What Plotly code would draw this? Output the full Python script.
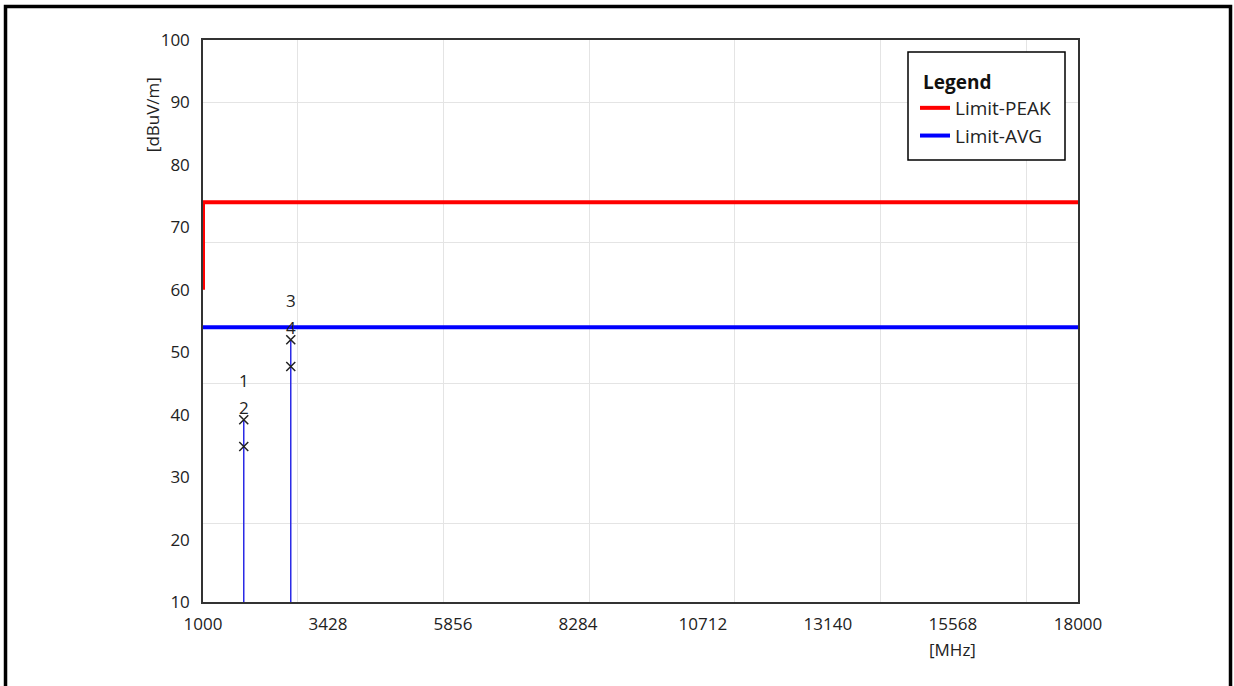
import plotly.graph_objects as go

# ---- data ----
x_range = [1000, 18000]
y_range = [10, 100]
x_tick_vals = [1000, 3428, 5856, 8284, 10712, 13140, 15568, 18000]
y_tick_vals = [10, 20, 30, 40, 50, 60, 70, 80, 90, 100]
x_grid_vals = [2833.33, 5666.67, 8500, 11333.33, 14166.67, 17000]
y_grid_vals = [22.5, 45, 67.5, 90]

limit_peak_x = [1000, 1000, 18000]
limit_peak_y = [60, 74, 74]
limit_avg_x = [1000, 18000]
limit_avg_y = [54, 54]

marker_freq = [1792, 2705]
marker_peak = [39.2, 52.0]
marker_avg = [34.9, 47.7]
peak_labels = ["1", "3"]
avg_labels = ["2", "4"]

FONT = "Open Sans"
FS = 17
LFS = 19

fig = go.Figure()

fig.add_trace(go.Scatter(x=limit_peak_x, y=limit_peak_y, mode="lines",
                         name="Limit-PEAK", line=dict(color="#ff0000", width=4)))
fig.add_trace(go.Scatter(x=limit_avg_x, y=limit_avg_y, mode="lines",
                         name="Limit-AVG", line=dict(color="#0000ff", width=4)))

# stems
stem_x, stem_y = [], []
for f, p in zip(marker_freq, marker_peak):
    stem_x += [f, f, None]
    stem_y += [y_range[0], p, None]
fig.add_trace(go.Scatter(x=stem_x, y=stem_y, mode="lines", showlegend=False,
                         line=dict(color="#2a2ae6", width=1.5), hoverinfo="skip"))

fig.add_trace(go.Scatter(x=marker_freq + marker_freq, y=marker_peak + marker_avg,
                         mode="markers", showlegend=False,
                         marker=dict(symbol="x-thin-open", size=9, color="#222",
                                     line=dict(color="#222", width=1.5))))

# dummy trace for grid overlay axes
fig.add_trace(go.Scatter(x=[x_range[0]], y=[y_range[0]], xaxis="x2", yaxis="y2",
                         mode="markers", marker=dict(opacity=0), showlegend=False,
                         hoverinfo="skip"))

for f, p, a, lp, la in zip(marker_freq, marker_peak, marker_avg, peak_labels, avg_labels):
    fig.add_annotation(x=f, y=p, text=lp, showarrow=False, yshift=39,
                       font=dict(family=FONT, size=FS, color="#222"))
    fig.add_annotation(x=f, y=a, text=la, showarrow=False, yshift=39,
                       font=dict(family=FONT, size=FS, color="#222"))

fig.add_annotation(xref="paper", yref="paper", x=-0.0583, y=0.868, text="[dBuV/m]",
                   textangle=-90, showarrow=False, xanchor="center", yanchor="middle",
                   font=dict(family=FONT, size=FS, color="#222"))
fig.add_annotation(xref="paper", yref="paper", x=0.856, y=-0.0854, text="[MHz]",
                   showarrow=False, xanchor="center", yanchor="middle",
                   font=dict(family=FONT, size=FS, color="#222"))

# legend frame + title
fig.add_shape(type="rect", xref="paper", yref="paper",
              x0=(908 - 203) / 875, x1=(1065 - 203) / 875,
              y0=(602 - 160) / 562, y1=(602 - 52) / 562,
              line=dict(color="black", width=1.5), fillcolor="white", layer="above")
fig.add_annotation(xref="paper", yref="paper", x=(921 - 203) / 875, y=(602 - 82) / 562,
                   text="<b>Legend</b>", showarrow=False, xanchor="left", yanchor="middle",
                   font=dict(family=FONT, size=LFS, color="#111"))

# outer frame
fig.add_shape(type="rect", xref="paper", yref="paper",
              x0=-0.2257, x1=1.1743, y0=-0.3, y1=1.0596,
              line=dict(color="black", width=3.5))

fig.update_layout(
    width=1234, height=686,
    margin=dict(l=203, r=156, t=40, b=84),
    paper_bgcolor="white", plot_bgcolor="white",
    font=dict(family=FONT, size=FS, color="#222"),
    xaxis=dict(range=x_range, tickmode="array", tickvals=x_tick_vals,
               ticktext=[str(v) for v in x_tick_vals],
               showgrid=False, zeroline=False, showline=True, linecolor="#333",
               linewidth=1.5, mirror=True, ticks="", ticklabelstandoff=6),
    yaxis=dict(range=y_range, tickmode="array", tickvals=y_tick_vals,
               showgrid=False, zeroline=False, showline=True, linecolor="#333",
               linewidth=1.5, mirror=True, ticks="", ticklabelstandoff=8),
    xaxis2=dict(overlaying="x", range=x_range, tickmode="array", tickvals=x_grid_vals,
                showgrid=True, gridcolor="#e4e4e4", gridwidth=1, showticklabels=False,
                zeroline=False, showline=False, ticks=""),
    yaxis2=dict(overlaying="y", range=y_range, tickmode="array", tickvals=y_grid_vals,
                showgrid=True, gridcolor="#e4e4e4", gridwidth=1, showticklabels=False,
                zeroline=False, showline=False, ticks=""),
    legend=dict(x=(915 - 203) / 875, y=(602 - 89) / 562, xanchor="left", yanchor="top",
                bgcolor="rgba(0,0,0,0)", borderwidth=0,
                font=dict(family=FONT, size=LFS, color="#222"),
                itemwidth=30, tracegroupgap=0),
    showlegend=True,
)

fig.write_html("out.html", config={"displayModeBar": False},
               post_script="document.body.style.margin='0';")
